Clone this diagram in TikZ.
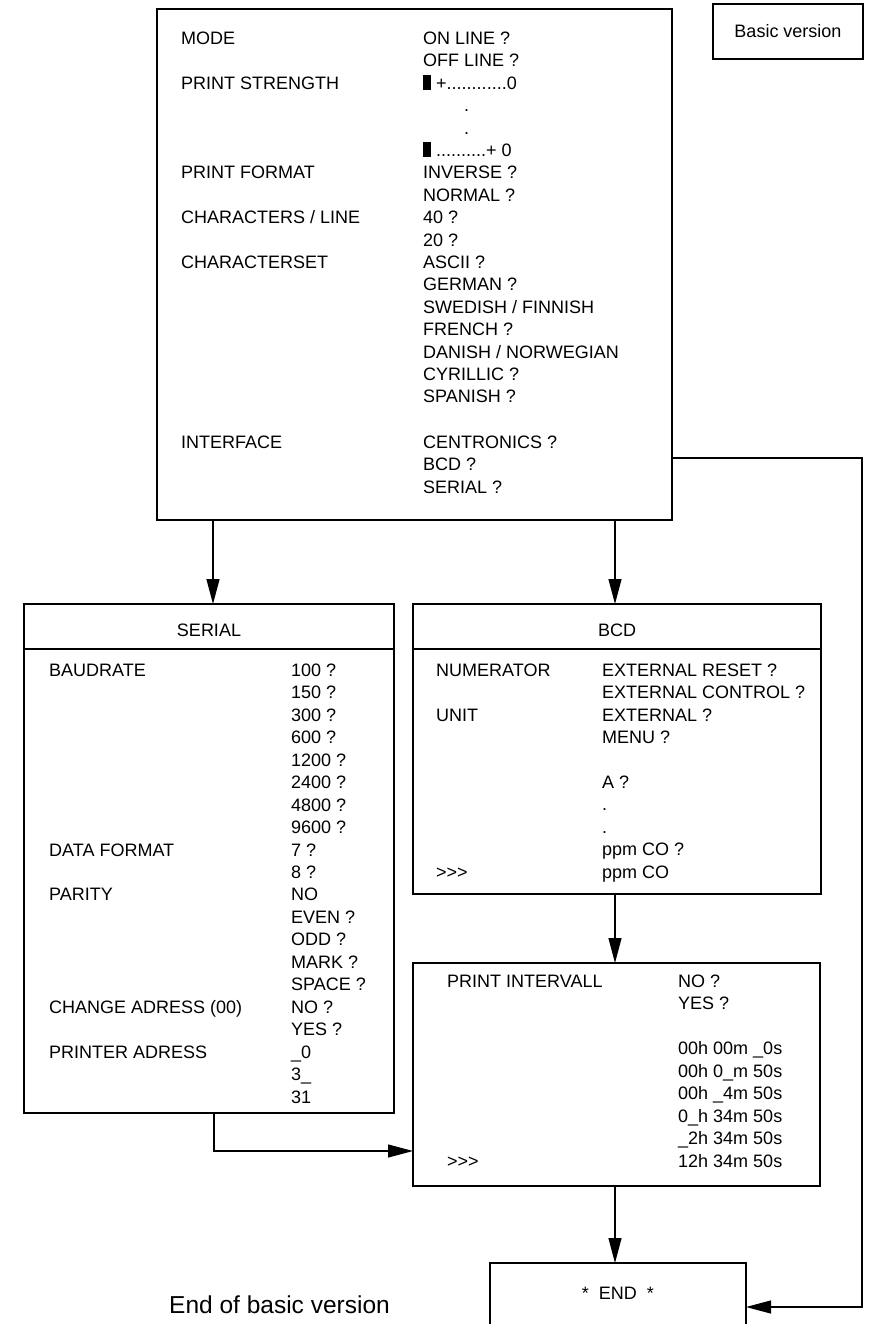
\documentclass[tikz,border=0pt]{standalone}
\usepackage{fontspec}
\setmainfont{Liberation Sans}
\usetikzlibrary{arrows.meta}
\begin{document}
\begin{tikzpicture}[x=1pt,y=-1pt,
  box/.style={draw, line width=1.2pt, inner sep=0pt, outer sep=0pt, anchor=north west},
  arr/.style={line width=1.2pt, -{Triangle[length=25pt,width=13pt]}},
  ln/.style={line width=1.2pt},
  txt/.style={anchor=west, inner sep=0pt, font=\fontsize{18}{20}\selectfont, text height=12.9pt, text depth=0pt},
  ctxt/.style={txt, anchor=center}]
\useasboundingbox (0,0) rectangle (870,1324);

% boxes
\node[box, minimum width=515pt, minimum height=511pt] (top) at (157,9) {};
\node[box, minimum width=150pt, minimum height=55pt, font=\fontsize{18}{20}\selectfont, text height=12.9pt, text depth=0pt] (bv) at (713,4) {Basic version};
\node[box, minimum width=370pt, minimum height=509pt] (serial) at (24,604) {};
\node[box, minimum width=408pt, minimum height=290pt] (bcd) at (413,604) {};
\node[box, minimum width=407pt, minimum height=223pt] (pi) at (413,963) {};
\node[inner sep=0pt, outer sep=0pt, anchor=north west, minimum width=256pt, minimum height=61pt, font=\fontsize{18}{20}\selectfont, text height=12.9pt, text depth=0pt] (end) at (490,1263) {*~~END~~*};
\draw[ln] (end.south west) -- (end.north west) -- (end.north east) -- (end.south east);

% header separators
\draw[ln] ([yshift=-45pt]serial.north west) -- ([yshift=-45pt]serial.north east);
\draw[ln] ([yshift=-45pt]bcd.north west) -- ([yshift=-45pt]bcd.north east);
\node[ctxt] (hser) at (209,630) {SERIAL};
\node[ctxt] (hbcd) at (617,630) {BCD};

% top box text
\node[txt] (l1) at (181,38) {MODE};
\node[txt] (l2) at (181,82.8) {PRINT STRENGTH};
\node[txt] (l3) at (181,172.4) {PRINT FORMAT};
\node[txt] (l4) at (181,217.2) {CHARACTERS / LINE};
\node[txt] (l5) at (181,262) {CHARACTERSET};
\node[txt] (l6) at (181,442) {INTERFACE};
\node[txt] (r1) at (423,38) {ON LINE ?};
\node[txt] (r2) at (423,60.4) {OFF LINE ?};
\node[txt] (r3) at (423,82.8) {\rule[-1pt]{8pt}{15pt}\hspace{5pt}+............0};
\node[txt] (r4) at (464,105.2) {.};
\node[txt] (r5) at (464,127.6) {.};
\node[txt] (r6) at (423,150) {\rule[-1pt]{8pt}{15pt}\hspace{5pt}..........+ 0};
\node[txt] (r7) at (423,172.4) {INVERSE ?};
\node[txt] (r8) at (423,194.8) {NORMAL ?};
\node[txt] (r9) at (423,217.2) {40 ?};
\node[txt] (r10) at (423,239.6) {20 ?};
\node[txt] (r11) at (423,262) {ASCII ?};
\node[txt] (r12) at (423,284.4) {GERMAN ?};
\node[txt] (r13) at (423,306.8) {SWEDISH / FINNISH};
\node[txt] (r14) at (423,329.2) {FRENCH ?};
\node[txt] (r15) at (423,351.6) {DANISH / NORWEGIAN};
\node[txt] (r16) at (423,374) {CYRILLIC ?};
\node[txt] (r17) at (423,396.4) {SPANISH ?};
\node[txt] (r18) at (423,442) {CENTRONICS ?};
\node[txt] (r19) at (423,464.4) {BCD ?};
\node[txt] (r20) at (423,486.8) {SERIAL ?};

% serial box text
\node[txt] (sl1) at (49,670) {BAUDRATE};
\node[txt] (sl2) at (49,849.6) {DATA FORMAT};
\node[txt] (sl3) at (49,894.5) {PARITY};
\node[txt] (sl4) at (49,1006.75) {CHANGE ADRESS (00)};
\node[txt] (sl5) at (49,1051.65) {PRINTER ADRESS};
\foreach \t [count=\i from 0] in {100 ?,150 ?,300 ?,600 ?,1200 ?,2400 ?,4800 ?,9600 ?,7 ?,8 ?,NO,EVEN ?,ODD ?,MARK ?,SPACE ?,NO ?,YES ?,\_0,3\_,31}
  \node[txt] (sr\i) at (291,670+22.45*\i) {\t};

% bcd box text
\node[txt] (bl1) at (436,670) {NUMERATOR};
\node[txt] (bl2) at (436,714.8) {UNIT};
\node[txt] (bl3) at (436,871.6) {{>}{>}{>}};
\node[txt] (br1) at (602,670) {EXTERNAL RESET ?};
\node[txt] (br2) at (602,692.4) {EXTERNAL CONTROL ?};
\node[txt] (br3) at (602,714.8) {EXTERNAL ?};
\node[txt] (br4) at (602,737.2) {MENU ?};
\node[txt] (br5) at (602,782) {A ?};
\node[txt] (br6) at (602,804.4) {.};
\node[txt] (br7) at (602,826.8) {.};
\node[txt] (br8) at (602,849.2) {ppm CO ?};
\node[txt] (br9) at (602,871.6) {ppm CO};

% print intervall text
\node[txt] (pl1) at (447,981) {PRINT INTERVALL};
\node[txt] (pl2) at (447,1161) {{>}{>}{>}};
\node[txt] (pr1) at (678,981) {NO ?};
\node[txt] (pr2) at (678,1003.5) {YES ?};
\node[txt] (pr3) at (678,1048.5) {00h 00m \_0s};
\node[txt] (pr4) at (678,1071) {00h 0\_m 50s};
\node[txt] (pr5) at (678,1093.5) {00h \_4m 50s};
\node[txt] (pr6) at (678,1116) {0\_h 34m 50s};
\node[txt] (pr7) at (678,1138.5) {\_2h 34m 50s};
\node[txt] (pr8) at (678,1161) {12h 34m 50s};

\node[anchor=base east, inner sep=0pt, font=\fontsize{24.5}{28}\selectfont] (eob) at (390,1313) {End of basic version};

% connectors
\coordinate (rc) at (862,458);
\draw[arr] ([xshift=4pt]serial.north |- top.south) -- ([xshift=4pt]serial.north);
\draw[arr] ([xshift=-2pt]bcd.north |- top.south) -- ([xshift=-2pt]bcd.north);
\draw[arr] ([xshift=-2pt]bcd.south) -- ([xshift=-2pt]bcd.south |- pi.north);
\draw[arr] ([xshift=-1.5pt]pi.south) -- ([xshift=-1.5pt]pi.south |- end.north);
\draw[arr] ([xshift=5pt]serial.south) |- ([yshift=-76.5pt]pi.west);
\draw[arr] ([yshift=-193.5pt]top.east) -- (rc) |- ([yshift=-13.5pt]end.east);
\end{tikzpicture}
\end{document}
